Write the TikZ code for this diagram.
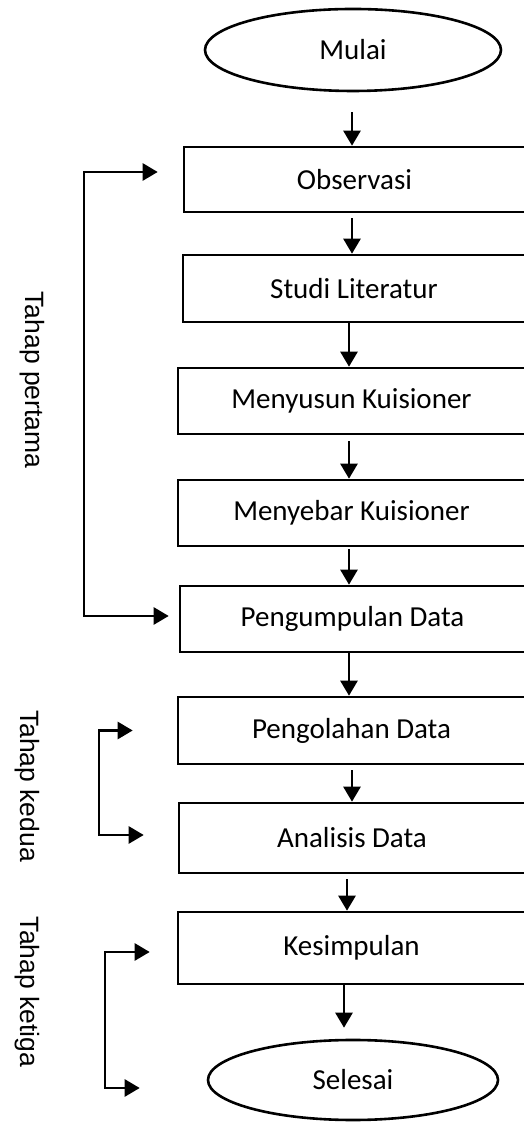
\documentclass[tikz,border=0pt]{standalone}
\usepackage{fontspec}
\setmainfont{Carlito}
\newfontfamily\labfont{Liberation Sans}
\usetikzlibrary{shapes.geometric,arrows.meta,calc}
\begin{document}
\begin{tikzpicture}[x=1pt,y=1pt,
  line width=2.6pt,
  stepbox/.style={draw,rectangle,inner sep=0,font=\fontsize{29}{33}\selectfont},
  term/.style={draw,ellipse,inner sep=0,font=\fontsize{29}{33}\selectfont},
  arr/.style={-{Triangle[length=15pt,width=17pt]}},
  barr/.style={{Triangle[length=15pt,width=17pt]}-{Triangle[length=15pt,width=17pt]}},
  lab/.style={rotate=-90,font=\labfont\fontsize{26.5}{30}\selectfont}]
\useasboundingbox (0,0) rectangle (523,1122);
\node[term,minimum width=296pt,minimum height=82pt] (mulai) at (353,1072) {Mulai};
\node[stepbox,minimum width=341pt,minimum height=65pt] (obs) at (354.5,942.5) {Observasi};
\node[stepbox,minimum width=342pt,minimum height=67pt] (studi) at (354,833.5) {Studi Literatur};
\node[stepbox,minimum width=347pt,minimum height=66pt] (susun) at (351.5,721) {Menyusun Kuisioner};
\node[stepbox,minimum width=347pt,minimum height=66pt] (sebar) at (351.5,609) {Menyebar Kuisioner};
\node[stepbox,minimum width=345pt,minimum height=66pt] (kumpul) at (352.5,503) {Pengumpulan Data};
\node[stepbox,minimum width=347pt,minimum height=67pt] (olah) at (351.5,391.5) {Pengolahan Data};
\node[stepbox,minimum width=346pt,minimum height=70pt] (anal) at (352,284) {Analisis Data};
\node[stepbox,minimum width=347pt,minimum height=72pt] (simp) at (351.5,174) {Kesimpulan};
\node[term,minimum width=290pt,minimum height=80pt] (selesai) at (353,42) {Selesai};
% flow arrows
\draw[arr] ([xshift=-1pt,yshift=-20pt]mulai.south) -- ([xshift=-2.5pt]obs.north);
\draw[arr] ([xshift=-2.5pt,yshift=-5pt]obs.south) -- ([xshift=-2pt]studi.north);
\draw[arr] ([xshift=-5pt]studi.south) -- ([xshift=-2.5pt]susun.north);
\draw[arr] ([xshift=-2.5pt,yshift=-6pt]susun.south) -- ([xshift=-2.5pt]sebar.north);
\draw[arr] ([xshift=-2.5pt,yshift=-2pt]sebar.south) -- ([xshift=-3.5pt]kumpul.north);
\draw[arr] ([xshift=-3.5pt]kumpul.south) -- ([xshift=-2.5pt]olah.north);
\draw[arr] ([xshift=0.5pt,yshift=-5pt]olah.south) -- ([xshift=0pt]anal.north);
\draw[arr] ([xshift=-5pt,yshift=-5pt]anal.south) -- ([xshift=-4.5pt]simp.north);
\draw[arr] ([xshift=-7.5pt]simp.south) -- ([xshift=-9pt,yshift=11pt]selesai.north);
% brackets
\coordinate (p1a) at ([xshift=-25pt,yshift=7.5pt]obs.west);
\coordinate (p1b) at ([xshift=-10pt,yshift=3pt]kumpul.west);
\draw[barr] (p1a) -- (84,0 |- p1a) -- (84,0 |- p1b) -- (p1b);
\coordinate (p2a) at ([xshift=-44pt]olah.west);
\coordinate (p2b) at ([xshift=-34pt,yshift=3pt]anal.west);
\draw[barr] (p2a) -- (99,0 |- p2a) -- (99,0 |- p2b) -- (p2b);
\coordinate (p3a) at ([xshift=-27pt,yshift=-4pt]simp.west);
\coordinate (p3b) at ([xshift=-67pt,yshift=-8pt]selesai.west);
\draw[barr] (p3a) -- (105,0 |- p3a) -- (105,0 |- p3b) -- (p3b);
% labels
\node[lab] (l1) at (32,742) {Tahap pertama};
\node[lab] (l2) at (27,336) {Tahap kedua};
\node[lab] (l3) at (27,130) {Tahap ketiga};
\end{tikzpicture}
\end{document}
